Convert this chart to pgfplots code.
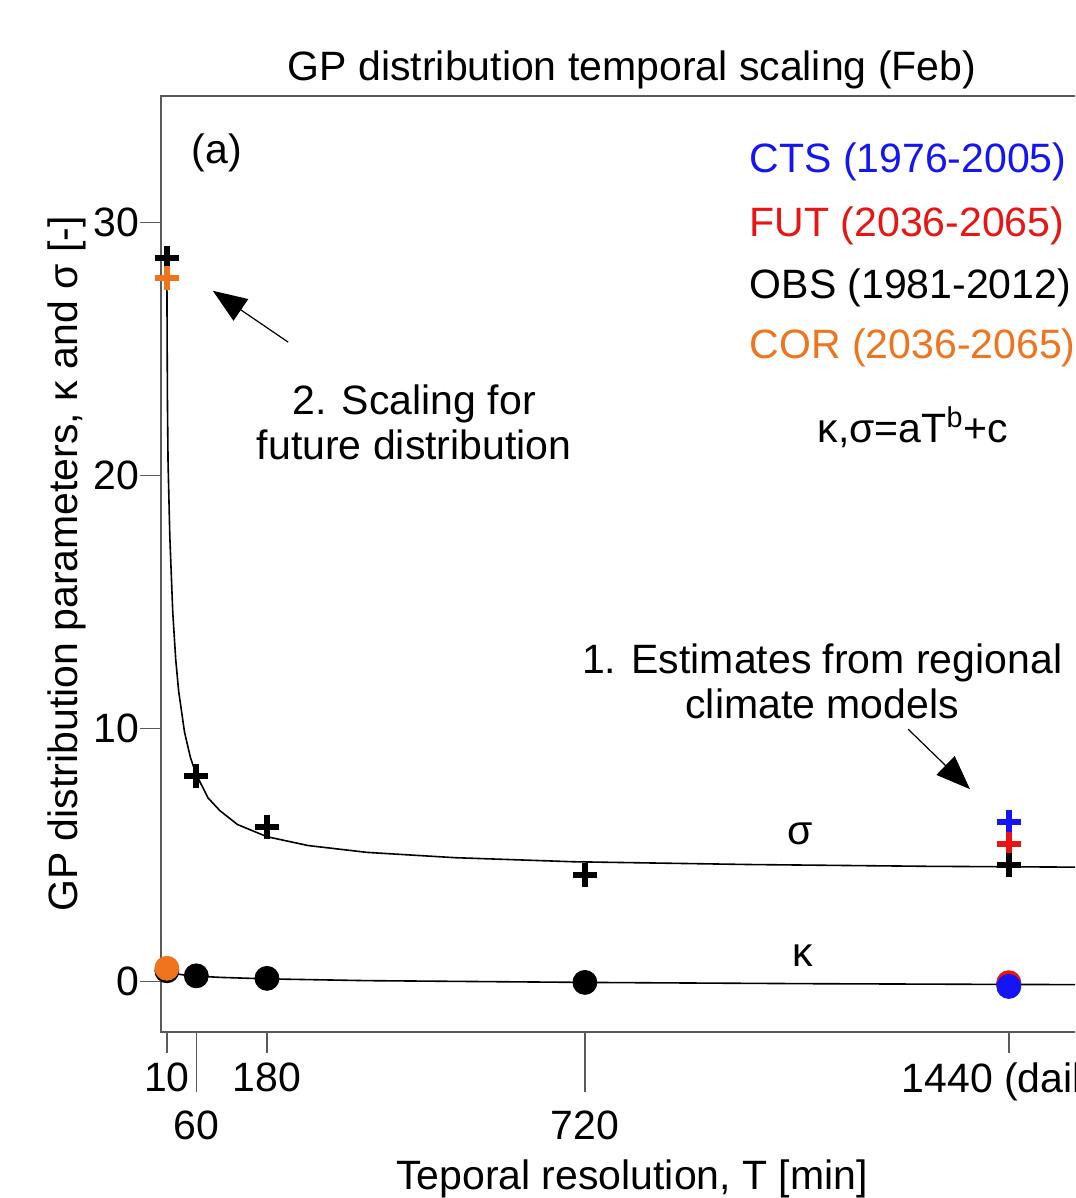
\documentclass[border=0pt]{standalone}
\usepackage{fontspec}
\setmainfont{Liberation Sans}
\usepackage{pgfplots}
\pgfplotsset{compat=1.18}
\usetikzlibrary{arrows.meta}
\definecolor{cts}{RGB}{20,20,245}
\definecolor{fut}{RGB}{235,20,20}
\definecolor{cor}{RGB}{240,115,30}
\definecolor{axgray}{RGB}{90,90,90}
\newcommand{\fs}{\fontsize{20.5}{22.5}\selectfont}
\begin{document}
\begin{tikzpicture}
\useasboundingbox (-80.5pt,-83pt) rectangle (457pt,516pt);
\clip (-80.5pt,-83pt) rectangle (457pt,516pt);
\begin{axis}[
  at={(0pt,0pt)}, anchor=south west,
  scale only axis, width=471pt, height=468pt,
  xmin=0, xmax=1600, ymin=-2, ymax=35,
  clip=false,
  axis line style={axgray, line width=0.8pt},
  tick style={axgray, line width=0.8pt},
  tick align=outside, major tick length=10.5pt,
  xtick={10,180,1440}, xticklabels={10,180,1440 (daily)},
  xticklabel style={yshift=-1.5pt},
  extra x ticks={60,720}, extra x tick labels={60,720},
  extra x tick style={major tick length=30pt, tick label style={yshift=-4.5pt}},
  ytick={0,10,20,30},
  yticklabel style={xshift=3pt},
  xtick pos=bottom, ytick pos=left,
  tick label style={font=\fs},
  /pgf/number format/assume math mode=true,
  every axis title shift=0pt,
  title={GP distribution temporal scaling (Feb)},
  title style={font=\fs, at={(axis description cs:0.5,1.0275)}, anchor=center},
  xlabel={Teporal resolution, T [min]},
  ylabel={GP distribution parameters, κ and σ [-]},
  label style={font=\fs},
  xlabel style={at={(axis description cs:0.5,-0.157)}, anchor=center},
  ylabel style={at={(axis description cs:-0.1000,0.5)}, anchor=center},
]
% sigma fit curve
\addplot[black, line width=0.8pt] coordinates {
 (10,27.9)(10.5,25.0)(11,22.8)(12,20.5)(15,17.58)(20,14.58)(25,12.73)(30,11.47)
 (40,9.85)(50,8.85)(60,8.17)(80,7.25)(100,6.75)(130,6.20)(180,5.72)(250,5.37)
 (350,5.10)(500,4.89)(700,4.73)(1000,4.62)(1300,4.55)(1600,4.51)};
% kappa fit curve
\addplot[black, line width=0.8pt] coordinates {
 (10,0.42)(20,0.32)(40,0.25)(60,0.21)(100,0.16)(180,0.10)(350,0.03)(720,-0.04)
 (1100,-0.09)(1440,-0.12)(1600,-0.13)};
% kappa points
\addplot[only marks, mark=*, mark size=6pt, mark options={draw=black, fill=black}] coordinates {
 (10,0.42)(60,0.22)(180,0.12)(720,-0.04)(1440,-0.10)};
\addplot[only marks, mark=*, mark size=6pt, mark options={draw=cor, fill=cor}] coordinates {(10,0.52)};
\addplot[only marks, mark=*, mark size=6pt, mark options={draw=fut, fill=fut}] coordinates {(1440,-0.05)};
\addplot[only marks, mark=*, mark size=6pt, mark options={draw=cts, fill=cts}] coordinates {(1440,-0.20)};
% sigma points
\addplot[only marks, mark=+, mark size=6pt, mark options={draw=cts, line width=3pt}] coordinates {(1440,6.3)};
\addplot[only marks, mark=+, mark size=6pt, mark options={draw=fut, line width=3pt}] coordinates {(1440,5.45)};
\addplot[only marks, mark=+, mark size=6pt, mark options={draw=black, line width=3pt}] coordinates {
 (10,28.6)(60,8.1)(180,6.1)(720,4.2)(1440,4.6)};
\addplot[only marks, mark=+, mark size=6pt, mark options={draw=cor, line width=3pt}] coordinates {(10,27.8)};
% annotations
\node[font=\fs] at (axis cs:95,32.75) {(a)};
\node[font=\fs, anchor=west, text=cts] at (axis cs:988,32.4) {CTS (1976-2005)};
\node[font=\fs, anchor=west, text=fut] at (axis cs:988,29.88) {FUT (2036-2065)};
\node[font=\fs, anchor=west, text=black] at (axis cs:988,27.43) {OBS (1981-2012)};
\node[font=\fs, anchor=west, text=cor] at (axis cs:988,25.03) {COR (2036-2065)};
\node[font=\fs] at (axis cs:1277,21.9) {κ,σ=aT\textsuperscript{b}+c};
\node[font=\fs, align=center] at (axis cs:430,22.1) {2. Scaling for\\future distribution};
\node[font=\fs, align=center] at (axis cs:1123,11.86) {1. Estimates from regional\\climate models};
\node[font=\fs] at (axis cs:1085,5.83) {σ};
\node[font=\fs] at (axis cs:1090,1.02) {κ};
\draw[-{Triangle[length=17pt,width=13pt]}, line width=0.6pt] (axis cs:216,25.27) -- (axis cs:88,27.3);
\draw[-{Triangle[length=17pt,width=13pt]}, line width=0.6pt] (axis cs:1269,9.97) -- (axis cs:1374,7.6);
\end{axis}
\end{tikzpicture}
\end{document}
